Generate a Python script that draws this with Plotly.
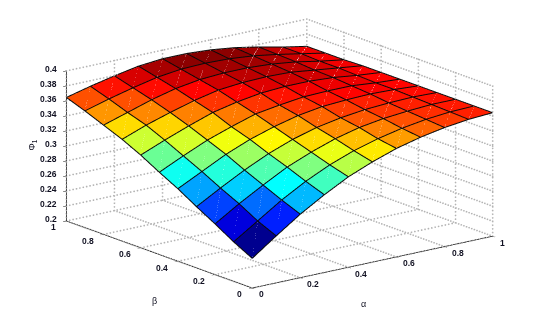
import math
import numpy as np
import plotly.graph_objects as go

ALPHA = [0, 0.1, 0.2, 0.3, 0.4, 0.5, 0.6, 0.7, 0.8, 0.9, 1]
BETA = [0, 0.1, 0.2, 0.3, 0.4, 0.5, 0.6, 0.7, 0.8, 0.9, 1]
# rows: beta, columns: alpha
PHI = [
    [.239, .262, .284, .303, .320, .333, .344, .352, .358, .362, .364],
    [.252, .273, .294, .312, .327, .339, .348, .355, .360, .363, .364],
    [.267, .287, .305, .322, .335, .346, .354, .359, .362, .364, .364],
    [.281, .299, .316, .331, .343, .352, .358, .362, .364, .365, .364],
    [.296, .312, .328, .341, .351, .359, .364, .366, .367, .366, .364],
    [.309, .324, .338, .349, .359, .364, .368, .369, .369, .366, .364],
    [.323, .336, .348, .359, .366, .371, .373, .373, .371, .367, .364],
    [.335, .347, .357, .366, .373, .376, .377, .376, .372, .368, .364],
    [.345, .355, .365, .373, .378, .380, .380, .378, .374, .368, .363],
    [.355, .364, .372, .379, .383, .384, .383, .380, .375, .369, .363],
    [.364, .372, .379, .385, .388, .388, .386, .382, .376, .369, .363],
]
XTICKS = [0, 0.2, 0.4, 0.6, 0.8, 1]
YTICKS = [0, 0.2, 0.4, 0.6, 0.8, 1]
ZTICKS = [0.2, 0.22, 0.24, 0.26, 0.28, 0.3, 0.32, 0.34, 0.36, 0.38, 0.4]
XLABELS = ["0", "0.2", "0.4", "0.6", "0.8", "1"]
YLABELS = ["0", "0.2", "0.4", "0.6", "0.8", "1"]
ZLABELS = ["0.2", "0.22", "0.24", "0.26", "0.28", "0.3", "0.32", "0.34", "0.36", "0.38", "0.4"]
JET = [[0, "#00008f"], [0.125, "#0000ff"], [0.375, "#00ffff"], [0.625, "#ffff00"], [0.875, "#ff0000"], [1, "#800000"]]

n = len(ALPHA)
vx, vy, vz = [], [], []
for j in range(n):
    for i in range(n):
        vx.append(ALPHA[i]); vy.append(BETA[j]); vz.append(PHI[j][i])
ti, tj, tk, cell = [], [], [], []
for j in range(n - 1):
    for i in range(n - 1):
        p = j * n + i
        ti += [p, p]; tj += [p + 1, p + n + 1]; tk += [p + n + 1, p + n]
        cell += [PHI[j][i], PHI[j][i]]

fig = go.Figure()
fig.add_trace(go.Mesh3d(x=vx, y=vy, z=vz, i=ti, j=tj, k=tk, intensity=cell, intensitymode="cell",
                        colorscale=JET, cmin=0.239, cmax=0.385, showscale=False, flatshading=True,
                        lighting=dict(ambient=1, diffuse=0, specular=0, roughness=1, fresnel=0),
                        hoverinfo="skip"))

# mesh lines
lx, ly, lz = [], [], []
LIFT = 0.0006
for j in range(n):
    for i in range(n):
        lx.append(ALPHA[i]); ly.append(BETA[j]); lz.append(PHI[j][i] + LIFT)
    lx.append(None); ly.append(None); lz.append(None)
for i in range(n):
    for j in range(n):
        lx.append(ALPHA[i]); ly.append(BETA[j]); lz.append(PHI[j][i] + LIFT)
    lx.append(None); ly.append(None); lz.append(None)
fig.add_trace(go.Scatter3d(x=lx, y=ly, z=lz, mode="lines", line=dict(color="#0a0a0a", width=2),
                           hoverinfo="skip", showlegend=False))

# pale facet seams
sx, sy, sz = [], [], []
for j in range(n - 1):
    for i in range(n - 1):
        sx += [ALPHA[i], ALPHA[i + 1], None]
        sy += [BETA[j], BETA[j + 1], None]
        sz += [PHI[j][i] + LIFT / 2, PHI[j + 1][i + 1] + LIFT / 2, None]
fig.add_trace(go.Scatter3d(x=sx, y=sy, z=sz, mode="lines", line=dict(color="rgba(255,255,255,0.14)", width=1),
                           hoverinfo="skip", showlegend=False))

# dotted box grid, drawn as fine dots along each grid line
gx, gy, gz = [], [], []
def seg(a, b, count):
    for f in np.linspace(0, 1, count):
        gx.append(a[0] + (b[0] - a[0]) * f)
        gy.append(a[1] + (b[1] - a[1]) * f)
        gz.append(a[2] + (b[2] - a[2]) * f)
zlo, zhi = ZTICKS[0], ZTICKS[-1]
for t in XTICKS:
    seg((t, 0, zlo), (t, 1, zlo), 72)
    seg((t, 1, zlo), (t, 1, zhi), 42)
for t in YTICKS:
    seg((0, t, zlo), (1, t, zlo), 72)
    seg((1, t, zlo), (1, t, zhi), 42)
for t in ZTICKS:
    seg((0, 1, t), (1, 1, t), 72)
    seg((1, 1, t), (1, 0, t), 72)
fig.add_trace(go.Scatter3d(x=gx, y=gy, z=gz, mode="markers",
                           marker=dict(color="#b4b4b4", size=1, line=dict(width=0)),
                           hoverinfo="skip", showlegend=False))

axis = dict(showbackground=False, showgrid=False, zeroline=False, showline=True, linecolor="#111111", linewidth=1.5,
            ticks="outside", ticklen=4, tickcolor="#111111", tickwidth=1, showspikes=False, showticklabels=False,
            title=dict(text=""))
ANNOT = dict(showarrow=False, font=dict(family="Liberation Sans", size=9, color="#111122"))
TICK = dict(showarrow=False, font=dict(family="Liberation Sans", size=8.5, color="#111122", weight="bold"))
tick_notes = []
for v, s in zip(XTICKS, XLABELS):
    tick_notes.append(dict(TICK, x=v, y=0, z=zlo, text=s, xanchor="left", xshift=5, yshift=-6))
for v, s in zip(YTICKS, YLABELS):
    tick_notes.append(dict(TICK, x=0, y=v, z=zlo, text=s, xanchor="right", xshift=-8, yshift=-6))
for v, s in zip(ZTICKS, ZLABELS):
    tick_notes.append(dict(TICK, x=0, y=1, z=v, text=s, xanchor="right", xshift=-7, yshift=2))
t = math.radians(37.7)
el = math.radians(16.2)
r = 2
cx, cy, cz = 0.041, -0.032, -0.054
fig.update_layout(
    width=533, height=317, paper_bgcolor="white", margin=dict(l=0, r=0, t=0, b=0), showlegend=False,
    scene=dict(
        domain=dict(x=[0.0488, 1], y=[0.03, 1]),
        aspectmode="manual", aspectratio=dict(x=1.98, y=1.98, z=1.018),
        camera=dict(projection=dict(type="orthographic"), up=dict(x=0, y=0, z=1), center=dict(x=cx, y=cy, z=cz),
                    eye=dict(x=cx - math.sin(t) * math.cos(el) * r, y=cy - math.cos(t) * math.cos(el) * r, z=cz + math.sin(el) * r)),
        xaxis=dict(axis, range=[0, 1], tickmode="array", tickvals=XTICKS),
        yaxis=dict(axis, range=[0, 1], tickmode="array", tickvals=YTICKS),
        zaxis=dict(axis, range=[0.2, 0.4], tickmode="array", tickvals=ZTICKS),
        annotations=tick_notes + [
            dict(ANNOT, x=0.5, y=0, z=0.2, text="α", xshift=-9, yshift=-41),
            dict(ANNOT, x=0, y=0.5, z=0.2, text="β", xshift=-5, yshift=-46),
            dict(ANNOT, x=0, y=1, z=0.3, text="Φ<sub>1</sub>", xshift=-34, yshift=1, textangle=-90),
        ],
    ),
)
fig.write_html("out.html")
